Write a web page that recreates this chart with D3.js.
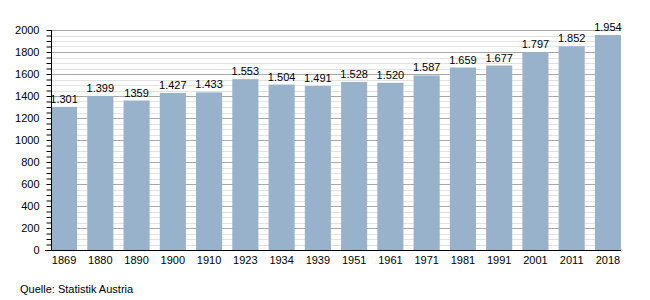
<!DOCTYPE html>
<html>
<head>
<meta charset="utf-8">
<script src="https://cdn.jsdelivr.net/npm/d3@7"></script>
<style>
  html, body { margin: 0; padding: 0; background: #fff; }
  svg text { font-family: "Liberation Sans", Arial, sans-serif; fill: #000; }
</style>
</head>
<body>
<svg id="chart" width="650" height="300"></svg>
<script>
const years = ["1869","1880","1890","1900","1910","1923","1934","1939","1951","1961","1971","1981","1991","2001","2011","2018"];
const population = [1301,1399,1359,1427,1433,1553,1504,1491,1528,1520,1587,1659,1677,1797,1852,1954];
const valueLabels = ["1.301","1.399","1359","1.427","1.433","1.553","1.504","1.491","1.528","1.520","1.587","1.659","1.677","1.797","1.852","1.954"];
const yMajorTicks = [0,200,400,600,800,1000,1200,1400,1600,1800,2000];
const sourceText = "Quelle: Statistik Austria";

const svg = d3.select("#chart");
const plotLeft = 51, plotRight = 621, plotTop = 30, plotBottom = 250;

const x = d3.scaleBand().domain(years).range([plotLeft, plotRight]).paddingInner(0.28).paddingOuter(0);
const y = d3.scaleLinear().domain([0, 2000]).range([plotBottom, plotTop]);

const minorTicks = d3.range(0, 2001, 50);

// gridlines
svg.append("g").selectAll("line").data(minorTicks.filter(v => v % 200 !== 0)).join("line")
  .attr("x1", plotLeft).attr("x2", plotRight)
  .attr("y1", d => Math.round(y(d)) + 0.5).attr("y2", d => Math.round(y(d)) + 0.5)
  .attr("stroke", "#e2e2e2").attr("stroke-width", 1);
svg.append("g").selectAll("line").data(yMajorTicks.filter(v => v > 0)).join("line")
  .attr("x1", plotLeft).attr("x2", plotRight)
  .attr("y1", d => Math.round(y(d)) + 0.5).attr("y2", d => Math.round(y(d)) + 0.5)
  .attr("stroke", "#a8a8a8").attr("stroke-width", 1);

// bars
svg.append("g").selectAll("rect").data(population).join("rect")
  .attr("x", (d, i) => x(years[i]))
  .attr("width", x.bandwidth())
  .attr("y", d => y(d))
  .attr("height", d => y(0) - y(d))
  .attr("fill", "#98b2cc");

// value labels
svg.append("g").selectAll("text").data(population).join("text")
  .attr("x", (d, i) => x(years[i]) + x.bandwidth() / 2)
  .attr("y", d => y(d) - 4)
  .attr("text-anchor", "middle")
  .attr("font-size", 11)
  .text((d, i) => valueLabels[i]);

// y axis
const yAxis = d3.axisLeft(y).tickValues(minorTicks).tickSize(5)
  .tickFormat(d => yMajorTicks.includes(d) ? d : "");
const gy = svg.append("g").attr("transform", `translate(${plotLeft + 0.5},0)`).call(yAxis);
gy.select(".domain").attr("stroke", "#000").attr("d", `M0,${plotTop}V${plotBottom}`);
gy.selectAll(".tick line").attr("stroke", "#000");
gy.selectAll(".tick text").attr("font-size", 11).attr("x", -12)
  .attr("font-family", "Liberation Sans, Arial, sans-serif").attr("fill", "#000");

// x axis
const xAxis = d3.axisBottom(x).tickSize(0).tickPadding(6);
const gx = svg.append("g").attr("transform", `translate(0,${plotBottom + 0.5})`).call(xAxis);
gx.select(".domain").attr("stroke", "#000").attr("stroke-width", 1.2).attr("d", `M${plotLeft - 6},0H${plotRight}`);
gx.selectAll(".tick text").attr("font-size", 11)
  .attr("font-family", "Liberation Sans, Arial, sans-serif").attr("fill", "#000");

// source
svg.append("text").attr("x", 20).attr("y", 293).attr("font-size", 11).text(sourceText);
</script>
</body>
</html>
